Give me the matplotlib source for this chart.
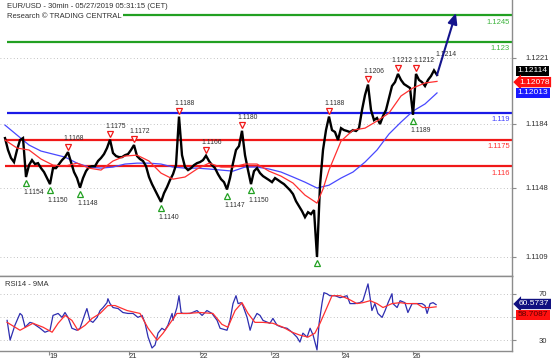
import numpy as np
import matplotlib
matplotlib.use('Agg')
import matplotlib.pyplot as plt
from matplotlib.transforms import offset_copy
from matplotlib.patches import Rectangle

plt.rcParams['font.family'] = ['Liberation Sans', 'DejaVu Sans']

# ---------------- data ----------------
title_line1 = "EUR/USD - 30min - 05/27/2019 05:31:15 (CET)"
title_line2 = "Research \u00a9 TRADING CENTRAL"
rsi_title = "RSI14 - 9MA"

# hourly closes (index = hours from start)
close = [1.11759, 1.11692, 1.11647, 1.11624, 1.11692, 1.11748, 1.11759, 1.11540, 1.11607, 1.11635,
         1.11613, 1.11618, 1.11590, 1.11568, 1.11534, 1.11500, 1.11590, 1.11590, 1.11613, 1.11635,
         1.11652, 1.11680, 1.11624, 1.11568, 1.11534, 1.11480, 1.11534, 1.11573, 1.11596, 1.11601,
         1.11601, 1.11630, 1.11647, 1.11669, 1.11703, 1.11750, 1.11675, 1.11658, 1.11652, 1.11652,
         1.11663, 1.11669, 1.11692, 1.11720, 1.11658, 1.11641, 1.11630, 1.11601, 1.11540, 1.11500,
         1.11466, 1.11433, 1.11400, 1.11449, 1.11483, 1.11523, 1.11556, 1.11607, 1.11880, 1.11663,
         1.11596, 1.11579, 1.11590, 1.11607, 1.11618, 1.11624, 1.11635, 1.11660, 1.11630, 1.11607,
         1.11590, 1.11556, 1.11528, 1.11511, 1.11470, 1.11534, 1.11618, 1.11692, 1.11714, 1.11800,
         1.11663, 1.11579, 1.11500, 1.11573, 1.11590, 1.11562, 1.11545, 1.11534, 1.11523, 1.11511,
         1.11534, 1.11523, 1.11511, 1.11500, 1.11483, 1.11466, 1.11444, 1.11404, 1.11376, 1.11348,
         1.11314, 1.11342, 1.11331, 1.11354, 1.11090, 1.11494, 1.11692, 1.11804, 1.11880, 1.11804,
         1.11793, 1.11748, 1.11815, 1.11804, 1.11799, 1.11793, 1.11804, 1.11799, 1.11815, 1.11917,
         1.12001, 1.12060, 1.11917, 1.11860, 1.11872, 1.11838, 1.11883, 1.11917, 1.11984, 1.12052,
         1.12074, 1.12120, 1.12086, 1.12063, 1.12052, 1.12041, 1.11890, 1.12120, 1.12086, 1.12074,
         1.12052, 1.12086, 1.12108, 1.12140, 1.12114]

ma_red_hours = [0, 4, 8, 12, 16, 20, 24, 28, 32, 36, 40, 44, 48, 52, 56, 60, 64, 68, 72, 76,
                80, 84, 88, 92, 96, 100, 104, 106, 108, 112, 116, 120, 124, 128, 132, 136, 140, 144]
ma_red = [1.11748, 1.11703, 1.11692, 1.11641, 1.11607, 1.11601, 1.11618, 1.11590, 1.11579, 1.11630,
          1.11658, 1.11663, 1.11630, 1.11562, 1.11528, 1.11540, 1.11585, 1.11618, 1.11596, 1.11596,
          1.11613, 1.11613, 1.11573, 1.11545, 1.11506, 1.11438, 1.11393, 1.11472, 1.11579, 1.11742,
          1.11804, 1.11815, 1.11855, 1.11900, 1.11996, 1.12041, 1.12069, 1.12078]

ma_blue_hours = [0, 4, 8, 12, 16, 20, 24, 28, 32, 36, 40, 44, 48, 52, 56, 60, 64, 68, 72, 76,
                 80, 84, 88, 92, 96, 100, 104, 108, 112, 116, 120, 124, 128, 132, 136, 140, 144]
ma_blue = [1.11832, 1.11776, 1.11720, 1.11686, 1.11669, 1.11652, 1.11618, 1.11596, 1.11590, 1.11596,
           1.11613, 1.11618, 1.11618, 1.11613, 1.11596, 1.11590, 1.11590, 1.11585, 1.11579, 1.11573,
           1.11596, 1.11596, 1.11585, 1.11568, 1.11540, 1.11511, 1.11478, 1.11494, 1.11534, 1.11568,
           1.11624, 1.11692, 1.11782, 1.11849, 1.11911, 1.11951, 1.12013]

resistance_levels = [1.1245, 1.123]
resistance_labels = ["1.1245", "1.123"]
pivot_levels = [1.119]
pivot_labels = ["1.119"]
support_levels = [1.1175, 1.116]
support_labels = ["1.1175", "1.116"]

high_idx = [21, 35, 43, 58, 67, 79, 108, 121, 131, 137]
high_labels = ["1.1168", "1.1175", "1.1172", "1.1188", "1.1166", "1.1180", "1.1188", "1.1206", "1.1212", "1.1212"]
last_high_idx = 143
last_high_label = "1.1214"
low_idx = [7, 15, 25, 52, 74, 82, 104, 136]
low_labels = ["1.1154", "1.1150", "1.1148", "1.1140", "1.1147", "1.1150", "", "1.1189"]

target_hour = 150.3
target_price = 1.12463

price_ticks = [1.1221, 1.1184, 1.1148, 1.1109]
price_tick_labels = ["1.1221", "1.1184", "1.1148", "1.1109"]
day_tick_hours = [14.7, 41.3, 65.0, 88.7, 112.3, 136.0]
day_labels = ["19", "21", "22", "23", "24", "26"]

last_values = {"close": 1.12114, "ma_red": 1.12078, "ma_blue": 1.12013}
rsi_last = 60.5737
rsi_ma_last = 58.7087

rsi_hours = [0.7, 1.7, 3.3, 5.0, 5.7, 6.7, 8.3, 9.3, 11.7, 13.3, 15.0, 16.0, 17.7, 19.0, 20.0, 21.0,
             22.3, 24.0, 25.0, 26.7, 27.3, 28.3, 29.3, 30.7, 31.7, 32.7, 34.0, 34.3, 35.0, 36.0, 37.7,
             39.3, 41.0, 42.7, 44.3, 45.7, 46.7, 47.7, 49.0, 50.0, 51.0, 52.3, 53.3, 54.3, 55.7, 56.0,
             57.3, 58.0, 58.7, 59.3, 61.7, 64.0, 65.7, 67.3, 69.0, 70.7, 71.7, 74.0, 75.0, 76.0, 77.0,
             77.7, 78.7, 79.3, 80.7, 81.7, 82.7, 84.0, 85.0, 86.0, 88.3, 89.3, 90.7, 92.3, 94.0, 95.7,
             97.3, 98.3, 99.3, 100.7, 101.7, 102.7, 104.0, 104.7, 105.7, 106.3, 107.3, 108.3, 110.0,
             111.7, 114.0, 115.0, 116.7, 118.3, 119.3, 121.0, 121.7, 122.3, 123.3, 124.3, 125.7, 126.7,
             127.7, 129.0, 129.3, 130.7, 131.7, 133.3, 134.3, 135.7, 137.3, 139.0, 140.0, 140.7, 141.7,
             142.7, 143.7]
rsi = [47.0, 30.0, 42.8, 53.0, 51.3, 41.1, 45.3, 44.5, 40.2, 36.8, 38.5, 51.3, 53.0, 49.6, 53.8, 49.6,
       40.2, 38.5, 40.2, 53.0, 57.2, 47.0, 45.3, 49.6, 55.5, 58.1, 62.3, 65.7, 61.5, 58.1, 57.2,
       53.8, 53.0, 53.0, 49.6, 51.3, 44.5, 32.6, 23.2, 25.7, 36.0, 40.2, 38.5, 42.8, 53.0, 47.0,
       58.1, 68.3, 53.8, 53.0, 53.0, 55.5, 51.3, 55.5, 53.0, 47.0, 40.2, 38.5, 47.0, 61.5, 68.3,
       61.5, 62.3, 59.8, 49.6, 38.5, 47.0, 53.0, 51.3, 47.0, 44.5, 48.7, 42.8, 41.1, 40.2, 36.8,
       32.6, 28.3, 36.0, 32.6, 40.2, 34.3, 21.5, 44.5, 62.3, 70.9, 70.0, 68.3, 68.3,
       66.6, 68.3, 61.5, 61.5, 62.3, 64.0, 78.5, 66.6, 55.5, 61.5, 53.0, 49.6, 55.5,
       62.3, 70.0, 61.5, 58.1, 64.0, 62.3, 53.8, 61.5, 61.5, 61.5, 59.8, 53.0, 61.5,
       62.3, 60.57]

rsi_ma_hours = [0.7, 5.0, 9.3, 12.7, 15.7, 17.7, 20.0, 22.3, 24.3, 26.7, 29.0, 31.7, 34.3, 36.7, 40.7,
                45.0, 47.7, 50.7, 52.7, 55.0, 57.3, 60.7, 65.0, 69.3, 72.3, 74.3, 76.7, 79.0, 81.0, 83.3,
                86.0, 89.3, 92.7, 95.7, 98.3, 101.0, 103.3, 105.0, 107.3, 109.0, 111.7, 114.3, 117.3,
                119.3, 121.7, 124.0, 126.0, 129.0, 131.7, 134.0, 137.3, 139.3, 141.7, 143.7]
rsi_ma = [45.3, 38.5, 44.5, 41.1, 36.8, 44.5, 51.3, 47.0, 38.5, 42.8, 48.7, 53.0, 59.8, 59.8, 55.5,
          53.0, 40.2, 30.0, 36.0, 44.5, 53.0, 53.0, 53.8, 53.0, 43.6, 41.1, 55.5, 62.3, 53.0, 45.3,
          45.3, 44.5, 41.1, 36.8, 34.3, 32.6, 36.0, 44.5, 58.1, 68.3, 68.3, 65.7, 61.5, 62.3, 64.0,
          61.5, 58.1, 61.5, 62.3, 61.5, 61.5, 58.1, 58.1, 58.71]

# ---------------- styling ----------------
GREEN = '#22a022'
BLUE = '#1a1ae6'
RED = '#f01818'
AXC = '#8c8c8c'
TXT = '#303030'

W, H = 554, 362
fig = plt.figure(figsize=(W / 100, H / 100), dpi=100)
fig.patch.set_facecolor('white')

ax = fig.add_axes([0, 86 / H, 512 / W, 276 / H])
ax2 = fig.add_axes([0, 11 / H, 512 / W, 75 / H], sharex=ax)

hours = np.arange(len(close))
xlim = (-1.67, 169.0)

# ---- main panel ----
ax.set_xlim(*xlim)
ax.set_ylim(1.10983, 1.12536)
for t in price_ticks:
    ax.axhline(t, color='#b0b0b0', lw=0.6, ls=(0, (1, 3)), zorder=0)

for lv in resistance_levels:
    ax.hlines(lv, hours[0] + 0.7, xlim[1], color=GREEN, lw=1.6, zorder=2)
for lv in pivot_levels:
    ax.hlines(lv, hours[0] + 0.7, xlim[1], color=BLUE, lw=1.6, zorder=2)
for lv in support_levels:
    ax.hlines(lv, hours[0], xlim[1], color=RED, lw=1.6, zorder=2)

ytr = ax.get_yaxis_transform()
for levels, labels, col in [(resistance_levels, resistance_labels, '#3cb43c'),
                            (pivot_levels, pivot_labels, '#4040ff'),
                            (support_levels, support_labels, '#ff3030')]:
    for lv, lb in zip(levels, labels):
        ax.annotate(lb, xy=(0.996, lv), xycoords=ytr, xytext=(0, -5), textcoords='offset points',
                    ha='right', va='center', fontsize=5.5, color=col)

ax.plot(ma_blue_hours, ma_blue, color='#4848ff', lw=0.9, zorder=3)
ax.plot(hours, close, color='black', lw=1.7, zorder=4, solid_joinstyle='miter')
ax.plot(ma_red_hours, ma_red, color='#ff3030', lw=0.9, zorder=5)

# pivot markers
down_tr = offset_copy(ax.transData, fig=fig, y=4.0, units='points')
up_tr = offset_copy(ax.transData, fig=fig, y=-4.5, units='points')
n_high = len(high_idx)
for n, (i, lb) in enumerate(zip(high_idx, high_labels)):
    ax.plot(hours[i], close[i], marker='v', ms=5, mfc='white', mec=RED, mew=0.9,
            transform=down_tr, zorder=6, clip_on=False)
    if n == n_high - 1:
        dx = -1.8
    elif n == n_high - 2:
        dx = -4.6
    else:
        dx = -3.5
    ax.annotate(lb, xy=(hours[i], close[i]), xytext=(dx, 9.7), textcoords='offset points',
                ha='left', va='center', fontsize=4.9, color=TXT, zorder=6)
ax.annotate(last_high_label, xy=(hours[last_high_idx], close[last_high_idx]), xytext=(0.8, 11.2),
            textcoords='offset points', ha='left', va='center', fontsize=4.9, color=TXT, zorder=6)
for i, lb in zip(low_idx, low_labels):
    ax.plot(hours[i], close[i], marker='^', ms=5, mfc='white', mec=GREEN, mew=0.9,
            transform=up_tr, zorder=6)
    if lb:
        ax.annotate(lb, xy=(hours[i], close[i]), xytext=(-1.5, -11.5), textcoords='offset points',
                    ha='left', va='center', fontsize=4.9, color=TXT, zorder=6)

# forecast arrow
ax.annotate('', xy=(target_hour, target_price), xytext=(hours[-1], close[-1]),
            arrowprops=dict(arrowstyle='-|>,head_length=0.8,head_width=0.35', color='#14148c',
                            lw=1.5, shrinkA=0, shrinkB=0, mutation_scale=8), zorder=7)

ax.yaxis.tick_right()
ax.set_yticks(price_ticks)
ax.set_yticklabels(price_tick_labels)
ax.tick_params(axis='y', direction='out', length=3, pad=7, labelsize=5.5, colors=AXC, labelcolor=TXT)
ax.tick_params(axis='x', bottom=False, labelbottom=False)
for s in ['top', 'left']:
    ax.spines[s].set_visible(False)
ax.spines['right'].set_color(AXC)
ax.spines['bottom'].set_color(AXC)
ax.spines['right'].set_linewidth(1.0)
ax.spines['bottom'].set_linewidth(1.0)

# right value boxes
ax.annotate(f"{last_values['close']:.5f}", xy=(1.0, last_values['close']), xycoords=ytr,
            xytext=(4, 3), textcoords='offset points', ha='left', va='center', fontsize=6,
            color='white', bbox=dict(boxstyle='square,pad=0.2', fc='black', ec='none'),
            annotation_clip=False, zorder=8)
ax.annotate(f"{last_values['ma_red']:.5f}", xy=(1.0, last_values['ma_red']), xycoords=ytr,
            xytext=(5, -0.5), textcoords='offset points', ha='left', va='center', fontsize=6,
            color='white', bbox=dict(boxstyle='larrow,pad=0.2', fc='#ff1010', ec='none'),
            annotation_clip=False, zorder=8)
ax.annotate(f"{last_values['ma_blue']:.5f}", xy=(1.0, last_values['ma_blue']), xycoords=ytr,
            xytext=(4, 0), textcoords='offset points', ha='left', va='center', fontsize=6,
            color='white', bbox=dict(boxstyle='square,pad=0.2', fc='#1a1aff', ec='none'),
            annotation_clip=False, zorder=8)

# ---- RSI panel ----
ax2.set_ylim(20.6, 85.3)
for t in [70, 50, 30]:
    ax2.axhline(t, color='#b0b0b0', lw=0.6, ls=(0, (1, 3)), zorder=0)
ax2.plot(rsi_hours, rsi, color='#2e2eb0', lw=0.9, zorder=3)
ax2.plot(rsi_ma_hours, rsi_ma, color='#ff3030', lw=0.9, zorder=4)
ax2.text(5 / 512, 0.89, rsi_title, transform=ax2.transAxes, fontsize=5.5, color=TXT,
         ha='left', va='center')
ax2.yaxis.tick_right()
ax2.set_yticks([70, 50, 30])
ax2.set_yticklabels(['70', '', '30'])
ax2.tick_params(axis='y', direction='out', length=3, pad=16, labelsize=5.5, colors=AXC, labelcolor=TXT)
ax2.set_xticks(day_tick_hours)
ax2.set_xticklabels(day_labels)
ax2.tick_params(axis='x', direction='out', length=3, pad=-1.5, labelsize=5.5, colors=AXC, labelcolor=TXT)
for lbl in ax2.get_xticklabels():
    lbl.set_horizontalalignment('left')
ax2.spines['left'].set_visible(False)
for s in ['top', 'right', 'bottom']:
    ax2.spines[s].set_color(AXC)
    ax2.spines[s].set_linewidth(1.0)

ytr2 = ax2.get_yaxis_transform()
ax2.annotate(f"{rsi_last:.4f}", xy=(1.0, rsi_last), xycoords=ytr2, xytext=(5, 0.5),
             textcoords='offset points', ha='left', va='center', fontsize=6, color='white',
             bbox=dict(boxstyle='larrow,pad=0.2', fc='#101080', ec='none'),
             annotation_clip=False, zorder=8)
ax2.annotate(f"{rsi_ma_last:.4f}", xy=(1.0, rsi_ma_last), xycoords=ytr2, xytext=(4, -5.8),
             textcoords='offset points', ha='left', va='center', fontsize=6, color='#600000',
             bbox=dict(boxstyle='square,pad=0.2', fc='#ff1010', ec='none'),
             annotation_clip=False, zorder=8)

# title block (white backing hides the top level line behind it)
fig.patches.append(Rectangle((0, 1 - 21 / H), 123 / W, 21 / H, transform=fig.transFigure,
                             fc='white', ec='none', zorder=1))
fig.text(7 / W, 1 - 6 / H, title_line1, fontsize=5.5, color=TXT, ha='left', va='center', zorder=3)
fig.text(7 / W, 1 - 17 / H, title_line2, fontsize=5.5, color=TXT, ha='left', va='center', zorder=3)

fig.savefig('out.png', dpi=100)
